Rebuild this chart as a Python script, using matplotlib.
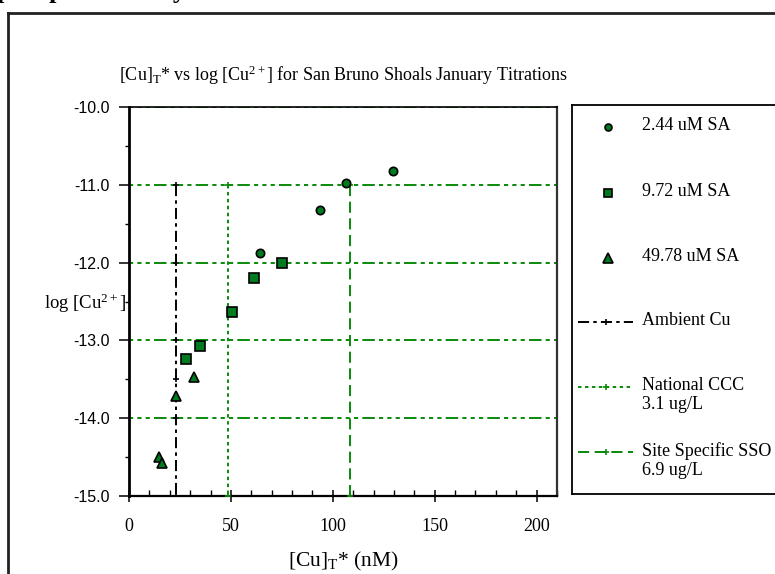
import numpy as np
import matplotlib
matplotlib.use("Agg")
import matplotlib.pyplot as plt
from matplotlib.lines import Line2D

plt.rcParams['font.family'] = ['Liberation Serif', 'DejaVu Serif']
plt.rcParams['mathtext.fontset'] = 'custom'
plt.rcParams['mathtext.rm'] = 'Liberation Serif'
plt.rcParams['mathtext.it'] = 'Liberation Serif:italic'
plt.rcParams['lines.scale_dashes'] = False

# titration data
sa244_x = [64.4, 93.6, 106.5, 129.6]
sa244_y = [-11.88, -11.32, -10.98, -10.82]
sa972_x = [27.8, 34.8, 50.5, 61.1, 75.3]
sa972_y = [-13.24, -13.07, -12.64, -12.20, -12.00]
sa4978_x = [14.9, 16.2, 23.0, 32.0]
sa4978_y = [-14.50, -14.58, -13.71, -13.47]

# reference levels (nM)
ambient_x = 23.2
ambient_y = [-11, -12, -13, -13.5, -14, -15]
ccc_x = 48.8
ccc_y = [-11, -15]
sso_x = 108.4
sso_y = [-11, -15]

labels = ["2.44 uM SA", "9.72 uM SA", "49.78 uM SA", "Ambient Cu",
          "National CCC\n3.1 ug/L", "Site Specific SSO\n6.9 ug/L"]

green = '#007a1e'
gridgreen = '#0a8a0a'
W, H = 775, 574

fig = plt.figure(figsize=(W / 100, H / 100), dpi=100)
ax = fig.add_axes([129 / W, 1 - 496 / H, (557 - 129) / W, (496 - 107) / H])

amb_style = dict(color='black', linestyle=(0, (8, 3, 2.5, 3)), lw=1.4,
                 marker='+', ms=5, mew=1.2)
ccc_style = dict(color=gridgreen, linestyle=(0, (2.5, 2.5)), lw=1.4,
                 marker='+', ms=5, mew=1.2)
sso_style = dict(color=gridgreen, linestyle=(0, (8, 4)), lw=1.4,
                 marker='+', ms=5, mew=1.2)
mk = dict(linestyle='none', mfc=green, mec='black', mew=1.2)

ax.plot([ambient_x] * len(ambient_y), ambient_y, **amb_style, zorder=3)
ax.plot([ccc_x] * len(ccc_y), ccc_y, **ccc_style, zorder=3)
ax.plot([sso_x] * len(sso_y), sso_y, **sso_style, zorder=3)

ax.plot(sa244_x, sa244_y, marker='o', ms=6, **mk, zorder=4)
ax.plot(sa972_x, sa972_y, marker='s', ms=7.5, **mk, zorder=4)
ax.plot(sa4978_x, sa4978_y, marker='^', ms=7.5, **mk, zorder=4)

ax.set_xlim(0, 210)
ax.set_ylim(-15, -10)
ax.set_xticks([0, 50, 100, 150, 200])
ax.set_xticks(np.arange(0, 211, 10), minor=True)
ax.set_yticks([-15, -14, -13, -12, -11, -10])
ax.set_yticks(np.arange(-15, -9.9, 0.5), minor=True)
ax.set_yticklabels(['%.1f' % v for v in ax.get_yticks()],
                   family='Liberation Sans', fontsize=11.5)
ax.set_xticklabels(['0', '50', '100', '150', '200'], fontsize=13)
ax.tick_params(axis='x', which='major', direction='inout', length=9, width=1.1, pad=11)
ax.tick_params(axis='x', which='minor', direction='in', length=4, width=1)
ax.tick_params(axis='y', which='major', direction='out', length=7, width=1.1, pad=7)
ax.tick_params(axis='y', which='minor', direction='out', length=3, width=1)

ax.grid(axis='y', which='major', color=gridgreen, lw=1.4,
        linestyle=(0, (3, 3, 3, 3, 3, 3, 9, 3)))

ax.spines['left'].set_linewidth(2)
ax.spines['bottom'].set_linewidth(1.6)
ax.spines['top'].set_linewidth(1.2)
ax.spines['right'].set_linewidth(1.6)
ax.spines['right'].set_color('#333333')

fig.text(343 / W, 1 - 75 / H,
         r'[Cu]$_\mathrm{T}$* vs log [Cu$^\mathrm{2+}$] for San Bruno Shoals January Titrations',
         ha='center', va='center', fontsize=13)
fig.text(343 / W, 1 - 561 / H, r'[Cu]$_\mathrm{T}$* (nM)', ha='center', va='center', fontsize=15.5)
fig.text(126 / W, 1 - 303 / H, r'log [Cu$^\mathrm{2+}$]', ha='right', va='center', fontsize=13.5)

# heading of the page, cut off at the top
fig.text(-3 / W, 1 + 2 / H, 'pH speciation by', fontsize=19, fontweight='bold',
         ha='left', va='baseline')

# outer frame
fig.add_artist(Line2D([8 / W, 8 / W], [0, 1 - 13 / H], color='#222222', lw=2))
fig.add_artist(Line2D([8 / W, 1], [1 - 13 / H, 1 - 13 / H], color='#222222', lw=2))

# legend box
lg = fig.add_axes([572 / W, 1 - 494 / H, (1000 - 572) / W, (494 - 105) / H])
lg.set_xlim(572, 1000)
lg.set_ylim(494, 105)
lg.set_xticks([])
lg.set_yticks([])
for s in lg.spines.values():
    s.set_linewidth(1.3)
rows = [127, 193, 258, 322, 387, 452]
lg.plot([608], [rows[0]], marker='o', ms=5, **mk)
lg.plot([608], [rows[1]], marker='s', ms=6, **mk)
lg.plot([608], [rows[2]], marker='^', ms=6.5, **mk)
for y, st in zip(rows[3:], [amb_style, ccc_style, sso_style]):
    st2 = dict(st)
    st2.pop('marker')
    lg.plot([578, 633], [y, y], **st2)
    lg.plot([605.5], [y], marker='+', color=st['color'], ms=5, mew=1.2)
for y, t in zip(rows, labels):
    lg.text(642, y - 10, t, ha='left', va='top', fontsize=13, linespacing=1.15)

fig.savefig('out.png', dpi=100)
